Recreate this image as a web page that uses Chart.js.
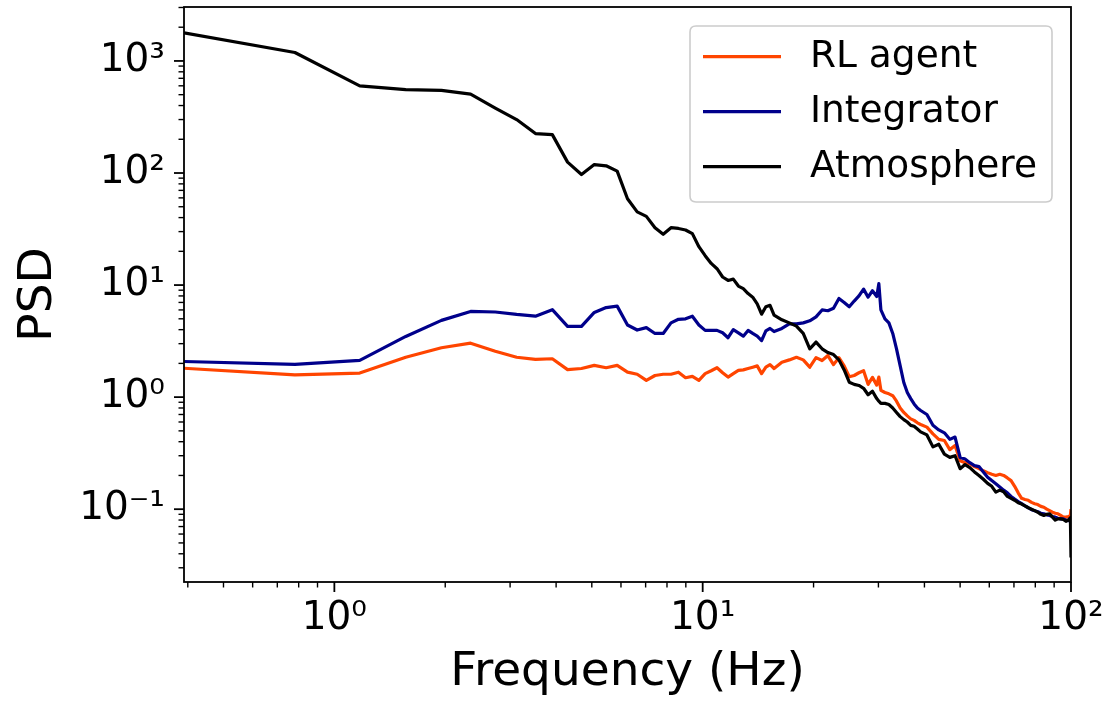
<!DOCTYPE html>
<html><head><meta charset="utf-8">
<script src="https://cdn.jsdelivr.net/npm/chart.js@4/dist/chart.umd.min.js"></script>
<style>html,body{margin:0;padding:0;background:#fff;}canvas{display:block;}</style>
</head><body>
<canvas id="c" width="1114" height="701"></canvas>
<script>
// Frequency bins (Hz)
const frequencies = [
  0.3906, 0.7813, 1.1719, 1.5625, 1.9531, 2.3438, 2.7344, 3.125, 3.5156, 3.9063,
  4.2969, 4.6875, 5.0781, 5.4688, 5.8594, 6.25, 6.6406, 7.0313, 7.4219, 7.8125,
  8.2031, 8.5938, 8.9844, 9.375, 9.7656, 10.1563, 10.5469, 10.9375, 11.3281, 11.7188,
  12.1094, 12.5, 12.8906, 13.2813, 13.6719, 14.0625, 14.4531, 14.8438, 15.2344, 15.625,
  16.4063, 17.1875, 17.9688, 18.75, 19.5313, 20.3125, 21.0938, 21.875, 22.6563, 23.4375,
  24.2188, 25, 25.7813, 26.5625, 27.3438, 28.125, 28.9063, 29.6875,
  30.0781,
  30.4688, 31.25, 32.0313, 32.8125, 33.5938, 34.375, 35.1563, 35.9375, 36.7188, 37.5, 38.2813, 39.0625,
  40.625, 42.1875, 43.75, 45.3125, 46.875, 48.4375, 50, 51.5625, 53.125, 54.6875,
  56.25, 57.8125, 59.375, 60.9375, 62.5, 64.0625, 65.625, 67.1875, 68.75, 70.3125,
  71.875, 73.4375, 75, 76.5625, 78.125, 79.6875, 81.25, 82.8125, 84.375, 85.9375,
  87.5, 89.0625, 90.625, 92.1875, 93.75, 95.3125, 96.875, 98.4375,
  99.6094, 100
];
const rlAgent = [
  1.81, 1.58, 1.64, 2.27, 2.76, 3.03, 2.57, 2.27, 2.17, 2.2,
  1.76, 1.8, 1.92, 1.83, 1.92, 1.67, 1.6, 1.41, 1.56, 1.6,
  1.6, 1.67, 1.49, 1.53, 1.41, 1.62, 1.72, 1.83, 1.65, 1.51,
  1.62, 1.73, 1.75, 1.8, 1.85, 1.9, 1.62, 1.85, 1.95, 1.8,
  2.05, 2.15, 2.27, 2.15, 1.85, 2.25, 2.12, 2.35, 1.95, 2.25,
  1.9, 1.52, 1.56, 1.65, 1.72, 1.3, 1.5, 1.28,
  1.51,
  1.15, 1.1, 1.07, 1.03, 0.92, 0.8, 0.73, 0.68, 0.64, 0.62, 0.59, 0.57,
  0.54, 0.47, 0.42, 0.41, 0.34, 0.37, 0.27, 0.26, 0.255, 0.24,
  0.23, 0.22, 0.212, 0.205, 0.2, 0.205, 0.2, 0.19, 0.18, 0.16,
  0.14, 0.125, 0.122, 0.12, 0.115, 0.112, 0.11, 0.106, 0.104, 0.1,
  0.097, 0.094, 0.092, 0.091, 0.088, 0.085, 0.085, 0.086,
  0.088, 0.1
];
const integrator = [
  2.08, 1.96, 2.13, 3.48, 4.84, 5.82, 5.75, 5.47, 5.28, 6.03,
  4.28, 4.28, 5.7, 6.3, 6.49, 4.4, 3.97, 4.17, 3.7, 3.7,
  4.6, 4.95, 5.0, 5.27, 4.4, 3.94, 3.94, 3.94, 3.75, 3.39,
  4.0, 3.75, 3.5, 3.94, 3.7, 3.5, 3.2, 3.9, 4.1, 3.85,
  4.1, 4.5, 4.5, 4.6, 4.8, 5.2, 6.0, 5.9, 6.2, 7.6,
  7.0, 6.4, 7.2, 8.0, 9.2, 7.8, 8.9, 7.9,
  10.3,
  6.0, 5.0, 4.6, 3.7, 2.7, 1.9, 1.35, 1.1, 0.97, 0.87, 0.8, 0.76,
  0.7, 0.56, 0.51, 0.48, 0.42, 0.44, 0.29, 0.28, 0.26, 0.245,
  0.24, 0.215, 0.193, 0.18, 0.169, 0.158, 0.148, 0.14, 0.13, 0.123,
  0.117, 0.112, 0.107, 0.103, 0.099, 0.097, 0.095, 0.092, 0.091, 0.089,
  0.088, 0.086, 0.085, 0.083, 0.082, 0.082, 0.08, 0.079,
  0.079, 0.072
];
const atmosphere = [
  1780, 1190, 600, 555, 547, 505, 380, 300, 225, 220,
  125, 97, 119, 116, 104, 59, 45, 41, 32.5, 28.4,
  32.5, 32, 31, 28.8, 22, 18.3, 15.6, 14.0, 11.8, 11.0,
  11.3, 9.8, 9.3, 8.4, 7.8, 6.8, 5.5, 6.4, 6.6, 5.4,
  4.9, 4.6, 4.3, 3.7, 2.7, 3.1, 2.7, 2.5, 2.4, 2.15,
  1.75, 1.36, 1.3, 1.27, 1.2, 1.05, 1.13, 0.97,
  0.92,
  0.88, 0.88, 0.86, 0.8, 0.73, 0.67, 0.63, 0.6, 0.56, 0.55, 0.52, 0.49,
  0.46, 0.36, 0.38, 0.31, 0.29, 0.3, 0.23, 0.25, 0.235, 0.215,
  0.2, 0.185, 0.17, 0.16, 0.142, 0.148, 0.143, 0.13, 0.125, 0.12,
  0.114, 0.111, 0.107, 0.103, 0.1, 0.097, 0.094, 0.09, 0.088, 0.09,
  0.091, 0.085, 0.08, 0.082, 0.082, 0.081, 0.078, 0.08,
  0.084, 0.037
];
const seriesNames = ['RL agent', 'Integrator', 'Atmosphere'];
const seriesColors = ['#ff4500', '#00008b', '#000000'];

const xMajorTicks = [1, 10, 100];
const xMinorTicks = [0.4, 0.5, 0.6, 0.7, 0.8, 0.9, 2, 3, 4, 5, 6, 7, 8, 9, 20, 30, 40, 50, 60, 70, 80, 90];
const yMajorTicks = [0.1, 1, 10, 100, 1000];
const yMinorTicks = [0.03, 0.04, 0.05, 0.06, 0.07, 0.08, 0.09, 0.2, 0.3, 0.4, 0.5, 0.6, 0.7, 0.8, 0.9,
  2, 3, 4, 5, 6, 7, 8, 9, 20, 30, 40, 50, 60, 70, 80, 90, 200, 300, 400, 500, 600, 700, 800, 900, 2000, 3000];
const majorTickValues = [0.1, 1, 10, 100, 1000];
const majorTickLabels = ['10⁻¹', '10⁰', '10¹', '10²', '10³'];

function tickLabel(v) {
  const i = majorTickValues.indexOf(v);
  return i >= 0 ? majorTickLabels[i] : '';
}
function buildTicks(major, minor) {
  return major.concat(minor).sort((a, b) => a - b).map(v => ({ value: v, major: major.includes(v) }));
}

const FONT = 'DejaVu Sans';

const framePlugin = {
  id: 'framePlugin',
  afterDraw(chart) {
    const { ctx, chartArea: a, scales: { x, y } } = chart;
    ctx.save();
    ctx.strokeStyle = '#000';
    x.ticks.forEach(t => {
      const px = x.getPixelForValue(t.value);
      const isMajor = xMajorTicks.includes(t.value);
      ctx.lineWidth = isMajor ? 1.8 : 1.4;
      ctx.beginPath();
      ctx.moveTo(px, a.bottom);
      ctx.lineTo(px, a.bottom + (isMajor ? 10 : 5.5));
      ctx.stroke();
    });
    y.ticks.forEach(t => {
      const py = y.getPixelForValue(t.value);
      const isMajor = yMajorTicks.includes(t.value);
      ctx.lineWidth = isMajor ? 1.8 : 1.4;
      ctx.beginPath();
      ctx.moveTo(a.left, py);
      ctx.lineTo(a.left - (isMajor ? 10 : 5.5), py);
      ctx.stroke();
    });
    ctx.lineWidth = 1.8;
    ctx.strokeRect(a.left, a.top, a.right - a.left, a.bottom - a.top);

    // legend
    const bx = 690, by = 26, bw = 362, bh = 176, r = 6;
    ctx.beginPath();
    ctx.moveTo(bx + r, by);
    ctx.lineTo(bx + bw - r, by);
    ctx.quadraticCurveTo(bx + bw, by, bx + bw, by + r);
    ctx.lineTo(bx + bw, by + bh - r);
    ctx.quadraticCurveTo(bx + bw, by + bh, bx + bw - r, by + bh);
    ctx.lineTo(bx + r, by + bh);
    ctx.quadraticCurveTo(bx, by + bh, bx, by + bh - r);
    ctx.lineTo(bx, by + r);
    ctx.quadraticCurveTo(bx, by, bx + r, by);
    ctx.closePath();
    ctx.fillStyle = 'rgba(255,255,255,0.8)';
    ctx.fill();
    ctx.strokeStyle = '#cccccc';
    ctx.lineWidth = 1.6;
    ctx.stroke();
    ctx.font = '37.5px "' + FONT + '"';
    ctx.textBaseline = 'middle';
    ctx.textAlign = 'left';
    chart.data.datasets.forEach((ds, i) => {
      const ry = 56.7 + i * 55;
      ctx.strokeStyle = ds.borderColor;
      ctx.lineWidth = 3.2;
      ctx.beginPath();
      ctx.moveTo(703, ry);
      ctx.lineTo(781, ry);
      ctx.stroke();
      ctx.fillStyle = '#000';
      ctx.fillText(ds.label, 810, ry + 1);
    });
    ctx.restore();
  }
};

const datasets = seriesNames.map((name, i) => {
  const vals = [rlAgent, integrator, atmosphere][i];
  return {
    label: name,
    data: frequencies.map((f, j) => ({ x: f, y: vals[j] })),
    borderColor: seriesColors[i],
    backgroundColor: seriesColors[i],
    borderWidth: 3.2,
    pointRadius: 0,
    tension: 0,
    fill: false,
    borderJoinStyle: 'round',
    order: 2 - i
  };
});

new Chart(document.getElementById('c'), {
  type: 'line',
  data: { datasets },
  options: {
    responsive: false,
    animation: false,
    devicePixelRatio: 1,
    layout: { padding: { top: 7, right: 43, left: 0, bottom: 0 } },
    plugins: { legend: { display: false }, tooltip: { enabled: false } },
    scales: {
      x: {
        type: 'logarithmic',
        min: 0.390625,
        max: 100,
        afterBuildTicks: s => { s.ticks = buildTicks(xMajorTicks, xMinorTicks); },
        afterFit: s => { s.height = 119; s.paddingLeft = 0; s.paddingRight = 0; s.paddingTop = 0; s.paddingBottom = 0; },
        grid: { display: false },
        border: { display: false },
        ticks: {
          autoSkip: false, maxRotation: 0, padding: 5, color: '#000',
          font: { family: FONT, size: 39 },
          callback: v => tickLabel(v)
        },
        title: {
          display: true, text: 'Frequency (Hz)', color: '#000',
          font: { family: FONT, size: 47, lineHeight: 1.2 },
          padding: { top: 0, bottom: 0 }
        }
      },
      y: {
        type: 'logarithmic',
        min: 0.0224,
        max: 3030,
        afterBuildTicks: s => { s.ticks = buildTicks(yMajorTicks, yMinorTicks); },
        afterFit: s => { s.width = 184; s.paddingLeft = 0; s.paddingRight = 0; s.paddingTop = 0; s.paddingBottom = 0; },
        grid: { display: false },
        border: { display: false },
        ticks: {
          autoSkip: false, padding: 11, color: '#000',
          font: { family: FONT, size: 39 },
          callback: v => tickLabel(v)
        },
        title: {
          display: true, text: 'PSD', color: '#000',
          font: { family: FONT, size: 47, lineHeight: 1.2 },
          padding: { top: 11, bottom: 0 }
        }
      }
    }
  },
  plugins: [framePlugin]
});
</script>
</body></html>
